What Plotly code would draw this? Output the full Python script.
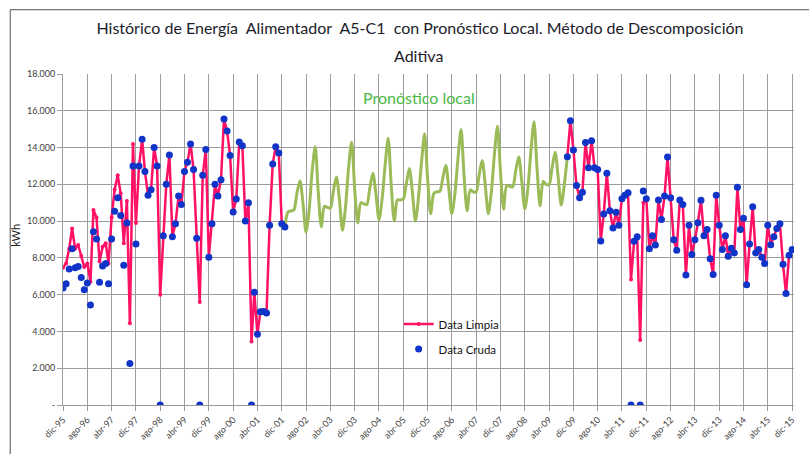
import pandas as pd
import plotly.graph_objects as go

# ---------------- data (kWh, monthly) ----------------
# Data Limpia, tramo 1: dic-95 .. ene-02
clean1 = [7470, 7700, 8500, 9600, 8500, 8700, 8100, 7500, 7700, 6700,
          10600, 10200, 7800, 8600, 8800, 7700, 10200, 11700, 12500, 11500,
          8800, 11100, 4450, 14200, 9900, 13000, 14450, 12700, 11400, 11700,
          14000, 13000, 6000, 9200, 12000, 13600, 9150, 9860, 11360, 10900,
          12700, 13200, 14200, 12800, 9070, 5600, 12500, 13900, 8040, 9860,
          12000, 11360, 12250, 15550, 14900, 13570, 10500, 11200, 14300, 14100,
          10000, 11000, 3450, 6130, 3850, 5070, 5090, 5000, 9770, 13100,
          14050, 13700, 9860, 9680]
# Data Cruda, tramo 1
raw1 = [6360, 6600, 7390, 8500, 7470, 7530, 6940, 6270, 6630, 5440,
        9420, 9030, 6680, 7560, 7690, 6600, 9030, 10530, 11270, 10300,
        7600, 9900, 2260, 13000, 8750, 13000, 14450, 12700, 11400, 11700,
        14000, 13000, 0, 9200, 12000, 13600, 9150, 9860, 11360, 10900,
        12700, 13200, 14200, 12800, 9070, 0, 12500, 13900, 8040, 9860,
        12000, 11360, 12250, 15550, 14900, 13570, 10500, 11200, 14300, 14100,
        10000, 11000, 0, 6130, 3850, 5070, 5090, 5000, 9770, 13100,
        14050, 13700, 9860, 9680]
# Pronóstico local: ene-02 .. oct-09
forecast = [9680, 10500, 10550, 10600, 11500, 12200, 11000, 9400, 10600, 12700,
            14050, 11600, 9700, 10800, 10750, 10700, 11600, 12400, 11200, 9500,
            10800, 12900, 14300, 11800, 9900, 11000, 10950, 10900, 11800, 12600,
            11500, 10070, 11200, 13000, 14500, 12000, 10000, 11150, 11150, 11200,
            12000, 12860, 11600, 10000, 11300, 13200, 14750, 12300, 10400, 11500,
            11600, 11600, 12300, 13040, 11800, 10400, 11500, 13400, 14980, 12500,
            10560, 11700, 11600, 11570, 12500, 13300, 12000, 10400, 11600, 13600,
            15160, 12700, 10650, 11930, 11900, 11860, 12700, 13500, 12200, 10650,
            11800, 13800, 15400, 12900, 10830, 12160, 12000, 11980, 12900, 13750,
            12400, 10870, 12000, 13500]
# Data Limpia, tramo 2: oct-09 .. dic-15
clean2 = [13500, 15460, 13870, 11930, 11270, 11570, 14280, 12900, 14370, 12900,
          12800, 8920, 10390, 12600, 10570, 9630, 10480, 9770, 11220, 11400,
          11540, 6820, 8900, 9150, 3530, 11000, 11220, 8500, 9200, 8700,
          11150, 10090, 11360, 13480, 11270, 8980, 8410, 11150, 10900, 7070,
          9770, 8180, 8980, 9910, 11130, 9200, 9540, 7950, 7090, 11410,
          9770, 8450, 9200, 8090, 8530, 8270, 11840, 9540, 10160, 6540,
          8750, 10780, 8270, 8450, 8040, 7700, 9770, 8710, 9150, 9600,
          9860, 7650, 6060, 8150, 8450]
# Data Cruda, tramo 2
raw2 = [13500, 15460, 13870, 11930, 11270, 11570, 14280, 12900, 14370, 12900,
        12800, 8920, 10390, 12600, 10570, 9630, 10480, 9770, 11220, 11400,
        11540, 0, 8900, 9150, 0, 11640, 11220, 8500, 9200, 8700,
        11150, 10090, 11360, 13480, 11270, 8980, 8410, 11150, 10900, 7070,
        9770, 8180, 8980, 9910, 11130, 9200, 9540, 7950, 7090, 11410,
        9770, 8450, 9200, 8090, 8530, 8270, 11840, 9540, 10160, 6540,
        8750, 10780, 8270, 8450, 8040, 7700, 9770, 8710, 9150, 9600,
        9860, 7650, 6060, 8150, 8450]

tick_labels = ["dic-95", "ago-96", "abr-97", "dic-97", "ago-98", "abr-99", "dic-99",
               "ago-00", "abr-01", "dic-01", "ago-02", "abr-03", "dic-03", "ago-04",
               "abr-05", "dic-05", "ago-06", "abr-07", "dic-07", "ago-08", "abr-09",
               "dic-09", "ago-10", "abr-11", "dic-11", "ago-12", "abr-13", "dic-13",
               "ago-14", "abr-15", "dic-15"]
y_ticks = [0, 2000, 4000, 6000, 8000, 10000, 12000, 14000, 16000, 18000]
y_labels = ["-", "2.000", "4.000", "6.000", "8.000", "10.000", "12.000",
            "14.000", "16.000", "18.000"]

# ---------------- dates ----------------
d1 = list(pd.date_range("1995-12-01", periods=len(clean1), freq="MS"))
df_ = list(pd.date_range("2002-01-01", periods=len(forecast), freq="MS"))
d2 = list(pd.date_range("2009-10-01", periods=len(clean2), freq="MS"))
tick_dates = list(pd.date_range("1995-12-01", periods=len(tick_labels), freq="8MS"))

x_data = d1 + [None] + d2
y_clean = clean1 + [None] + clean2
y_raw = raw1 + [None] + raw2

FONT = "Lato, 'Open Sans', sans-serif"
PINK = "#FF1166"
BLUE = "#1034C8"
GREEN = "#9BBB59"
GRID = "#9C9C9C"

fig = go.Figure()
fig.add_trace(go.Scatter(x=df_, y=forecast, mode="lines", name="Pronóstico",
                         line=dict(color=GREEN, width=3, shape="spline", smoothing=0.8),
                         showlegend=False))
fig.add_trace(go.Scatter(x=x_data, y=y_clean, mode="lines+markers", name="Data Limpia",
                         line=dict(color=PINK, width=2.5),
                         marker=dict(color=PINK, size=4),
                         connectgaps=False, legendgroup="a"))
fig.add_trace(go.Scatter(x=x_data, y=y_raw, mode="markers", name="Data Cruda",
                         marker=dict(color=BLUE, size=7),
                         legendgroup="b"))

fig.update_layout(
    width=809, height=454,
    margin=dict(l=63, r=12, t=74, b=40),
    paper_bgcolor="white", plot_bgcolor="white",
    font=dict(family=FONT, color="#404040"),
    title=dict(text="Histórico de Energía  Alimentador  A5-C1  con Pronóstico Local. Método de Descomposición",
               x=420 / 809, xanchor="center", y=1 - 28 / 454, yanchor="middle",
               font=dict(family=FONT, size=16, color="#1c1c2a")),
    showlegend=True,
    legend=dict(x=(400 - 63) / 734, xanchor="left", y=(414 - 316) / 340, yanchor="top",
                font=dict(family=FONT, size=11.5, color="#111111"),
                bgcolor="rgba(0,0,0,0)", traceorder="grouped", tracegroupgap=6),
    xaxis=dict(range=["1995-12-01", "2015-12-20"], tickmode="array",
               tickvals=tick_dates, ticktext=tick_labels, tickangle=-45,
               tickfont=dict(size=9, color="#404040"),
               showgrid=True, gridcolor=GRID, gridwidth=1,
               showline=True, linecolor=GRID, ticks="outside", ticklen=5, tickcolor=GRID,
               zeroline=False),
    yaxis=dict(range=[0, 18000], tickmode="array", tickvals=y_ticks, ticktext=y_labels,
               tickfont=dict(size=9, color="#404040"),
               showgrid=True, gridcolor=GRID, gridwidth=1,
               showline=True, linecolor=GRID, ticks="outside", ticklen=5, tickcolor=GRID,
               zeroline=False),
    annotations=[
        dict(text="Aditiva", x=(420 - 63) / 734, y=(414 - 55) / 340,
             xref="paper", yref="paper", showarrow=False,
             xanchor="center", yanchor="middle",
             font=dict(family=FONT, size=16, color="#1c1c2a")),
        dict(text="Pronóstico local", x=(420 - 63) / 734, y=(414 - 98.5) / 340,
             xref="paper", yref="paper", showarrow=False,
             xanchor="center", yanchor="middle",
             font=dict(family=FONT, size=16, color="#4DB848")),
        dict(text="kWh", x=(15 - 63) / 734, y=(414 - 240) / 340, xref="paper", yref="paper",
             showarrow=False, textangle=-90, xanchor="center", yanchor="middle",
             font=dict(family=FONT, size=11, color="#222222")),
    ],
    shapes=[dict(type="rect", xref="paper", yref="paper",
                 x0=(10 - 63) / 734, x1=(815 - 63) / 734,
                 y0=(414 - 470) / 340, y1=(414 - 8) / 340,
                 line=dict(color="#505050", width=1), fillcolor="rgba(0,0,0,0)", layer="below")],
)

fig.write_html("out.html", config={"displayModeBar": False},
               post_script="document.body.style.margin='0px';")
